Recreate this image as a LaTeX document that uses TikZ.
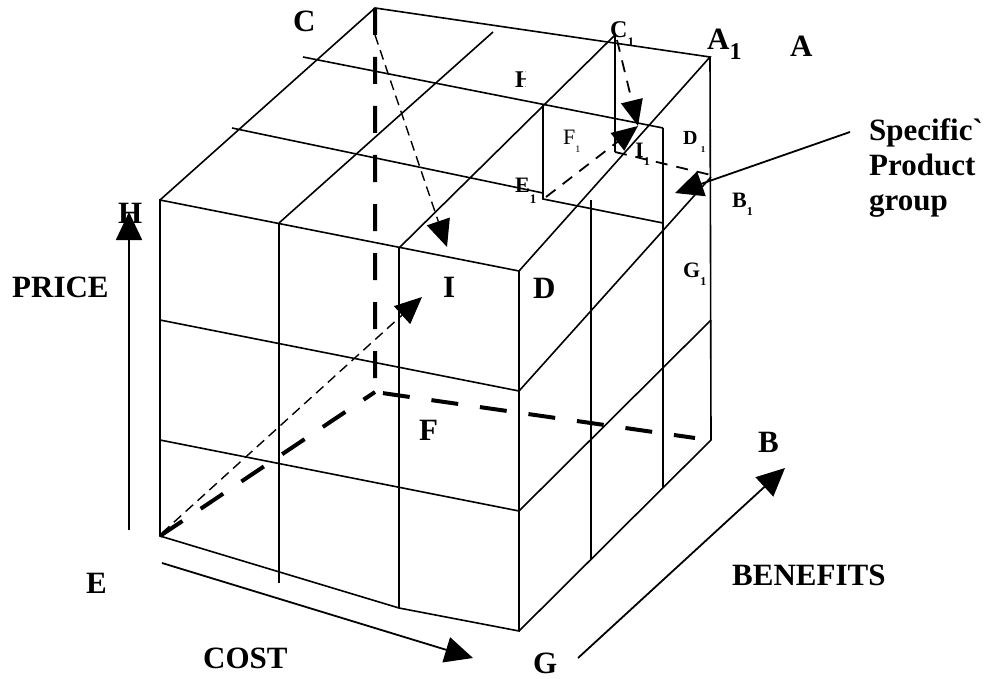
\documentclass[tikz,border=0pt]{standalone}
\usepackage{fontspec}
\setmainfont{Liberation Serif}[Ligatures=TeXOff]
\usetikzlibrary{arrows.meta}
\newcommand\one[2]{\raisebox{-#2}{\fontsize{#1}{#1}\selectfont 1}}

\begin{document}
\begin{tikzpicture}[x=1pt, y=-1pt,
  edge/.style={line width=1.6pt},
  hidden/.style={line width=4pt, dash pattern=on 27pt off 22pt},
  inner/.style={line width=1.8pt, dash pattern=on 12pt off 9pt},
  guide/.style={line width=1.4pt, dash pattern=on 10pt off 6pt, -{Triangle[length=27pt,width=24pt]}},
  subguide/.style={line width=1.8pt, dash pattern=on 12pt off 9pt, -{Triangle[length=26pt,width=22pt]}},
  axis/.style={line width=1.8pt, -{Triangle[length=28pt,width=26pt]}},
  big/.style={font=\fontsize{31}{35}\selectfont\bfseries, inner sep=0pt, anchor=base west},
  mid/.style={font=\fontsize{22}{26}\selectfont\bfseries, inner sep=0pt, anchor=base west},
  plain/.style={font=\fontsize{22}{26}\selectfont, inner sep=0pt, anchor=base west}
]
\useasboundingbox (0,0) rectangle (984,679);

% cube corners
\coordinate (ftl) at (160,200);
\coordinate (ftr) at (519,271);
\coordinate (fbl) at (160,536);
\coordinate (fbr) at (519,631);
\coordinate (btl) at (375,8);
\coordinate (btr) at (710,57);
\coordinate (bbl) at (375,392);
\coordinate (bbr) at (711,440);

% front face
\draw[edge] (ftl) -- (ftr) -- (fbr) -- (399,608) -- (fbl) -- cycle;
\draw[edge] (279,223) -- (279,583);
\draw[edge] (399,247) -- (399,608);
\draw[edge] (160,320) -- (519,391);
\draw[edge] (160,440) -- (519,511);

% top face
\draw[edge] (ftl) -- (btl) -- (btr) -- (ftr);
\draw[edge] (279,223) -- (493,32);
\draw[edge] (399,248) -- (615,35);
\draw[edge] (303,57) -- (663,128);
\draw[edge] (232,128) -- (543,193);

% right face
\draw[edge] (btr) -- (bbr) -- (fbr);
\draw[edge] (663,128) -- (663,487);
\draw[edge] (591,200) -- (591,560);
\draw[edge] (519,391) -- (711,177);
\draw[edge] (519,511) -- (711,320);

% specific product group
\coordinate (e1) at (543,199);
\coordinate (c1) at (615,35);
\coordinate (l1) at (615,152);
\coordinate (b1) at (711,175);
\draw[edge] (543,104) -- (e1) -- (663,223);
\draw[edge] (c1) -- (l1);
\draw[inner] (l1) -- (b1);

% hidden edges
\draw[hidden] (btl) -- (bbl) -- (695,438);
\draw[hidden] (fbl) -- (bbl);

% labels
\node[big] (c) at (293,32) {C};
\node[big] (h) at (118,223) {H};
\node[big] (price) at (12,297) {PRICE};
\node[big] (e) at (86,593) {E};
\node[big] (cost) at (203,668) {COST};
\node[big] (g) at (533,673) {G};
\node[big] (b) at (758,452) {B};
\node[big] (benefits) at (732,585) {BENEFITS};
\node[big] (f) at (419,440) {F};
\node[big] (i) at (443,297) {I};
\node[big] (d) at (533,298) {D};
\node[big] (a) at (790,57) {A};
\node[big] (a1) at (707,50) {A\one{24}{10pt}};
\node[big, align=left] (spec) at (869,210) {Specific`\\Product\\group};
\node[mid, font=\fontsize{24}{28}\selectfont\bfseries] (c1lbl) at (610,38) {C\one{13}{9pt}};
\node[plain] (f1lbl) at (563,145) {F\one{10}{8pt}};
\node[mid, font=\fontsize{20}{24}\selectfont\bfseries] (d1lbl) at (683,145) {D\,\one{9}{8pt}};
\node[mid] (e1lbl) at (515,193) {E\one{13}{10pt}};
\node[mid] (i1lbl) at (635,158) {I\one{12}{7pt}};
\node[mid] (b1lbl) at (732,207) {B\one{12}{8pt}};
\node[mid] (g1lbl) at (683,277) {G\one{12}{8pt}};
\begin{scope}
  \clip (505,60) rectangle (525,95);
  \node[mid, font=\fontsize{24}{28}\selectfont\bfseries] (htop) at (515,88) {H};
\end{scope}

% axes
\coordinate (priceTail) at (129,530);
\coordinate (priceHead) at (129,212);
\coordinate (costTail) at (162,563);
\coordinate (costHead) at (473,658);
\coordinate (benTail) at (578,658);
\coordinate (benHead) at (785,468);
\coordinate (specTail) at (850,132);
\coordinate (specHead) at (675,193);
\draw[axis] (priceTail) -- (priceHead);
\draw[axis] (costTail) -- (costHead);
\draw[axis] (benTail) -- (benHead);
\draw[axis] (specTail) -- (specHead);

% arrows meeting at I and I1
\coordinate (ctail) at (375,35);
\coordinate (ihead1) at (447,247);
\coordinate (etail) at (162,533);
\coordinate (ihead2) at (422,297);
\coordinate (c1tail) at (617,40);
\coordinate (i1head) at (638,126);
\coordinate (e1tail) at (546,197);
\draw[guide] (ctail) -- (ihead1);
\draw[guide] (etail) -- (ihead2);
\draw[subguide] (c1tail) -- (i1head);
\draw[subguide] (e1tail) -- (i1head);
\end{tikzpicture}
\end{document}
